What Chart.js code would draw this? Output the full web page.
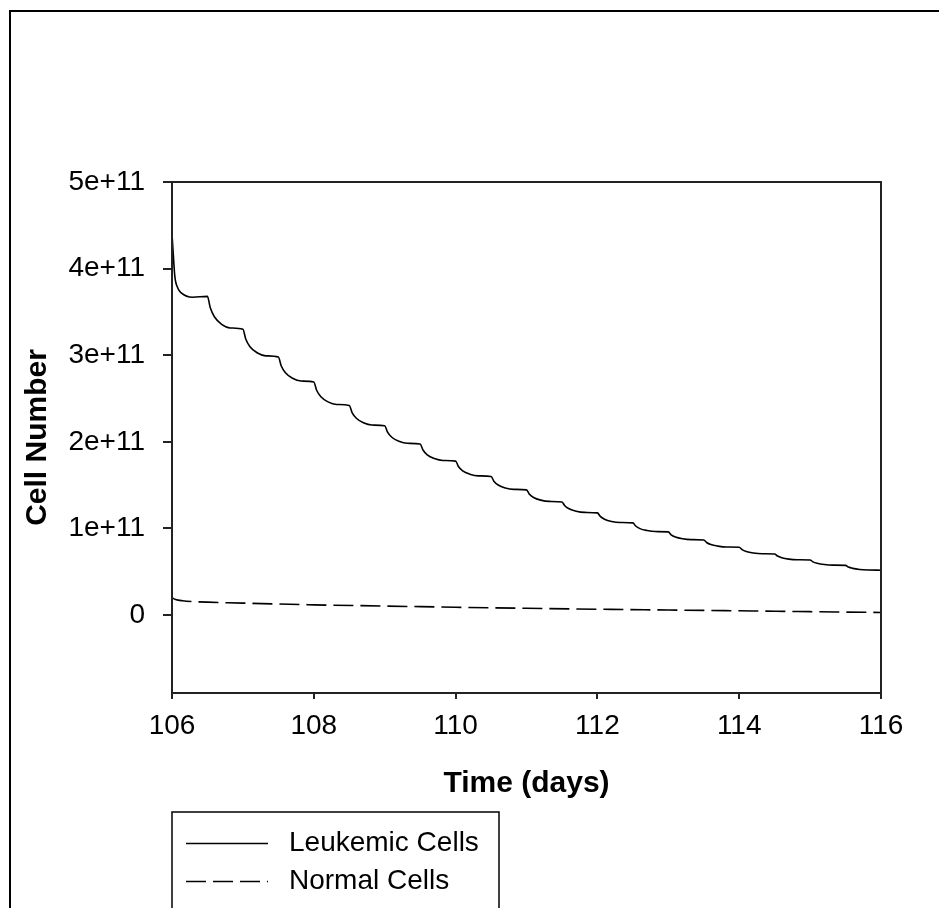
<!DOCTYPE html>
<html>
<head>
<meta charset="utf-8">
<script src="https://cdn.jsdelivr.net/npm/chart.js@4/dist/chart.umd.min.js"></script>
<style>
  html, body { margin: 0; padding: 0; background: #fff; }
  #wrap { width: 939px; height: 908px; }
</style>
</head>
<body>
<div id="wrap"><canvas id="cellChart" width="939" height="908"></canvas></div>
<script>
// cell counts are in units of 1e11
const UNIT = 1e11;

const leukemicDays = [
    106.0, 106.02, 106.04, 106.085, 106.13, 106.29,
    106.5, 106.54, 106.6, 106.7, 106.82,
    107.0, 107.04, 107.1, 107.2, 107.32,
    107.5, 107.54, 107.6, 107.7, 107.82,
    108.0, 108.04, 108.1, 108.2, 108.32,
    108.5, 108.54, 108.6, 108.7, 108.82,
    109.0, 109.04, 109.1, 109.2, 109.32,
    109.5, 109.54, 109.6, 109.7, 109.82,
    110.0, 110.04, 110.1, 110.2, 110.32,
    110.5, 110.54, 110.6, 110.7, 110.82,
    111.0, 111.04, 111.1, 111.2, 111.32,
    111.5, 111.54, 111.6, 111.7, 111.82,
    112.0, 112.04, 112.1, 112.2, 112.32,
    112.5, 112.54, 112.6, 112.7, 112.82,
    113.0, 113.04, 113.1, 113.2, 113.32,
    113.5, 113.54, 113.6, 113.7, 113.82,
    114.0, 114.04, 114.1, 114.2, 114.32,
    114.5, 114.54, 114.6, 114.7, 114.82,
    115.0, 115.04, 115.1, 115.2, 115.32,
    115.5, 115.54, 115.6, 115.7, 115.82,
    116.0
];
const leukemicCells = [
    4.40, 4.14, 3.91, 3.77, 3.72, 3.67,
    3.68, 3.547, 3.441, 3.357, 3.315,
    3.30, 3.188, 3.098, 3.028, 2.993,
    2.98, 2.879, 2.797, 2.734, 2.702,
    2.69, 2.596, 2.520, 2.461, 2.431,
    2.42, 2.338, 2.272, 2.220, 2.194,
    2.185, 2.112, 2.053, 2.007, 1.983,
    1.975, 1.906, 1.850, 1.807, 1.785,
    1.777, 1.715, 1.665, 1.627, 1.607,
    1.60, 1.546, 1.502, 1.468, 1.451,
    1.445, 1.396, 1.357, 1.327, 1.312,
    1.306, 1.262, 1.227, 1.199, 1.185,
    1.18, 1.139, 1.107, 1.081, 1.069,
    1.064, 1.028, 0.998, 0.976, 0.964,
    0.96, 0.927, 0.901, 0.881, 0.871,
    0.867, 0.838, 0.814, 0.796, 0.786,
    0.783, 0.756, 0.734, 0.717, 0.708,
    0.705, 0.681, 0.662, 0.646, 0.639,
    0.636, 0.614, 0.597, 0.583, 0.576,
    0.574, 0.554, 0.539, 0.526, 0.520,
    0.518
];

const normalDays  = [106.0, 106.05, 106.15, 106.3, 107, 108, 109, 110, 111, 112, 113, 114, 115, 116];
const normalCells = [0.20, 0.18, 0.165, 0.155, 0.138, 0.118, 0.104, 0.090, 0.078, 0.067, 0.058, 0.049, 0.039, 0.030];

const xTicks = [106, 108, 110, 112, 114, 116];
const yTicks = [0, 1, 2, 3, 4, 5];
const yMin = -0.9;
const yMax = 5;

const FONT = "'Liberation Sans', Arial, sans-serif";

function toPoints(days, cells) {
    return days.map((d, i) => ({ x: d, y: cells[i] * UNIT }));
}

// frame round the figure, box round the plot, and the legend box
const decorations = {
    id: 'decorations',
    afterDraw(chart) {
        const ctx = chart.ctx;
        const a = chart.chartArea;
        ctx.save();
        ctx.strokeStyle = '#000';

        ctx.lineWidth = 2;
        ctx.beginPath();
        ctx.moveTo(10, 908);
        ctx.lineTo(10, 11);
        ctx.lineTo(939, 11);
        ctx.stroke();

        ctx.lineWidth = 2;
        ctx.strokeStyle = '#222';
        ctx.strokeRect(a.left, a.top, a.right - a.left, a.bottom - a.top);

        ctx.strokeStyle = '#000';
        ctx.lineWidth = 1.5;
        ctx.strokeRect(172, 812, 327, 140);

        const rows = [843.5, 881.5];
        ctx.font = '28px ' + FONT;
        ctx.textBaseline = 'middle';
        ctx.fillStyle = '#000';
        chart.data.datasets.forEach((ds, i) => {
            ctx.beginPath();
            ctx.lineWidth = ds.borderWidth;
            ctx.setLineDash(ds.borderDash || []);
            ctx.moveTo(186, rows[i]);
            ctx.lineTo(268, rows[i]);
            ctx.stroke();
            ctx.setLineDash([]);
            ctx.fillText(ds.label, 289, rows[i]);
        });
        ctx.restore();
    }
};

new Chart(document.getElementById('cellChart').getContext('2d'), {
    type: 'line',
    data: {
        datasets: [{
            label: 'Leukemic Cells',
            data: toPoints(leukemicDays, leukemicCells),
            borderColor: '#000',
            borderWidth: 1.6,
            pointRadius: 0,
            cubicInterpolationMode: 'monotone'
        }, {
            label: 'Normal Cells',
            data: toPoints(normalDays, normalCells),
            borderColor: '#000',
            borderWidth: 1.6,
            borderDash: [20, 7],
            pointRadius: 0,
            cubicInterpolationMode: 'monotone'
        }]
    },
    options: {
        responsive: false,
        animation: false,
        layout: { padding: { top: 182, right: 58, left: 0, bottom: 0 } },
        plugins: {
            legend: { display: false },
            tooltip: { enabled: false }
        },
        scales: {
            x: {
                type: 'linear',
                min: 106,
                max: 116,
                afterBuildTicks: scale => { scale.ticks = xTicks.map(v => ({ value: v })); },
                afterFit: scale => { scale.height = 908 - 693; },
                grid: { drawOnChartArea: false, drawTicks: true, tickLength: 6, color: '#222', lineWidth: 2 },
                border: { display: false },
                ticks: { color: '#000', padding: 10, font: { family: FONT, size: 28 } },
                title: {
                    display: true,
                    text: 'Time (days)',
                    color: '#000',
                    font: { family: FONT, size: 30, weight: 'bold' },
                    padding: { top: 0, bottom: 106 }
                }
            },
            y: {
                type: 'linear',
                min: yMin * UNIT,
                max: yMax * UNIT,
                afterBuildTicks: scale => { scale.ticks = yTicks.map(v => ({ value: v * UNIT })); },
                afterFit: scale => { scale.width = 172; },
                grid: { drawOnChartArea: false, drawTicks: true, tickLength: 9, color: '#222', lineWidth: 2 },
                border: { display: false },
                ticks: {
                    color: '#000',
                    padding: 18,
                    font: { family: FONT, size: 28 },
                    callback: value => value === 0 ? '0' : Math.round(value / UNIT) + 'e+11'
                },
                title: {
                    display: true,
                    text: 'Cell Number',
                    color: '#000',
                    font: { family: FONT, size: 30, weight: 'bold' },
                    padding: { top: 20, bottom: 0 }
                }
            }
        }
    },
    plugins: [decorations]
});
</script>
</body>
</html>
